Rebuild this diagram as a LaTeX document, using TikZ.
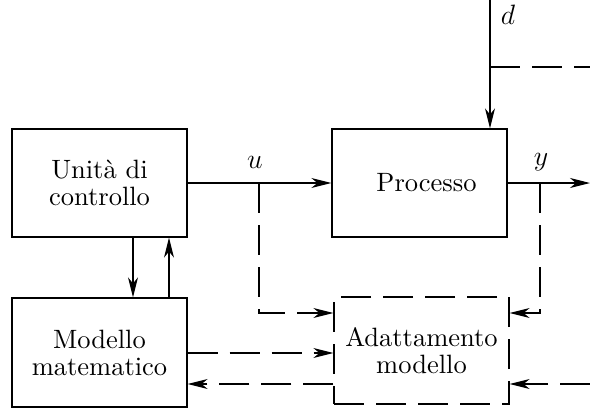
\documentclass[tikz,border=0pt]{standalone}
\usepackage{fix-cm}
\usepackage{fontspec}
\setmainfont{lmroman10-regular}[Extension=.otf,ItalicFont=lmroman10-italic,BoldFont=lmroman10-bold]
\usetikzlibrary{arrows.meta}
\begin{document}
\begin{tikzpicture}[x=1pt,y=-1pt,line width=1.2pt,
  blk/.style={draw,minimum width=175pt,minimum height=108pt,align=center,inner sep=0pt,font=\fontsize{26.5}{27}\selectfont},
  lbl/.style={font=\fontsize{28}{28}\selectfont,inner sep=0pt},
  arr/.style={-{Stealth[length=20pt,width=10pt,inset=6pt]}},
  dsh/.style={dash pattern=on 30pt off 12pt}]
\useasboundingbox (0,0) rectangle (590,408);
\node[blk] (unita) at (99.5,183) {Unità di\\controllo};
\node[blk,minimum height=109pt] (model) at (99.5,352.5) {Modello\\matematico};
\node[blk] (proc) at (419.5,183) {\hspace*{14pt}Processo};
\node[blk,dsh,minimum height=107pt] (adapt) at (421.5,350.5) {Adattamento\\modello};
% labels
\node[lbl] (lu) at (255,162) {$u$};
\node[lbl] (ly) at (541,162) {$y$};
\node[lbl] (ld) at (508,15) {$d$};
% coordinates
\coordinate (yout) at (590,183);
\coordinate (dtop) at (490,0);
\coordinate (dbr) at (490,67);
\coordinate (dend) at (590,67);
\coordinate (ub) at (259,183);
\coordinate (ubd) at (259,313);
\coordinate (yb) at (540,183);
\coordinate (ybd) at (540,313);
\coordinate (rin) at (590,384);
% solid connectors
\draw[arr] (unita.east) -- (proc.west);
\draw[arr] (proc.east) -- (yout);
\draw[arr] (dtop) -- (dtop |- proc.north);
\draw[arr] (unita.south -| 133,0) -- (model.north -| 133,0);
\draw[arr] (model.north -| 169,0) -- (unita.south -| 169,0);
% dashed connectors
\draw[dsh] (dbr) -- (dend);
\draw[dsh,arr] (ub) -- (ubd) -- (ubd -| adapt.west);
\draw[dsh,arr] (yb) -- (ybd) -- (ybd -| adapt.east);
\draw[dsh,arr] (model.east |- 0,353) -- (adapt.west |- 0,353);
\draw[dsh,arr] (adapt.west |- 0,384) -- (model.east |- 0,384);
\draw[dsh,arr] (rin) -- (rin -| adapt.east);
\end{tikzpicture}
\end{document}
